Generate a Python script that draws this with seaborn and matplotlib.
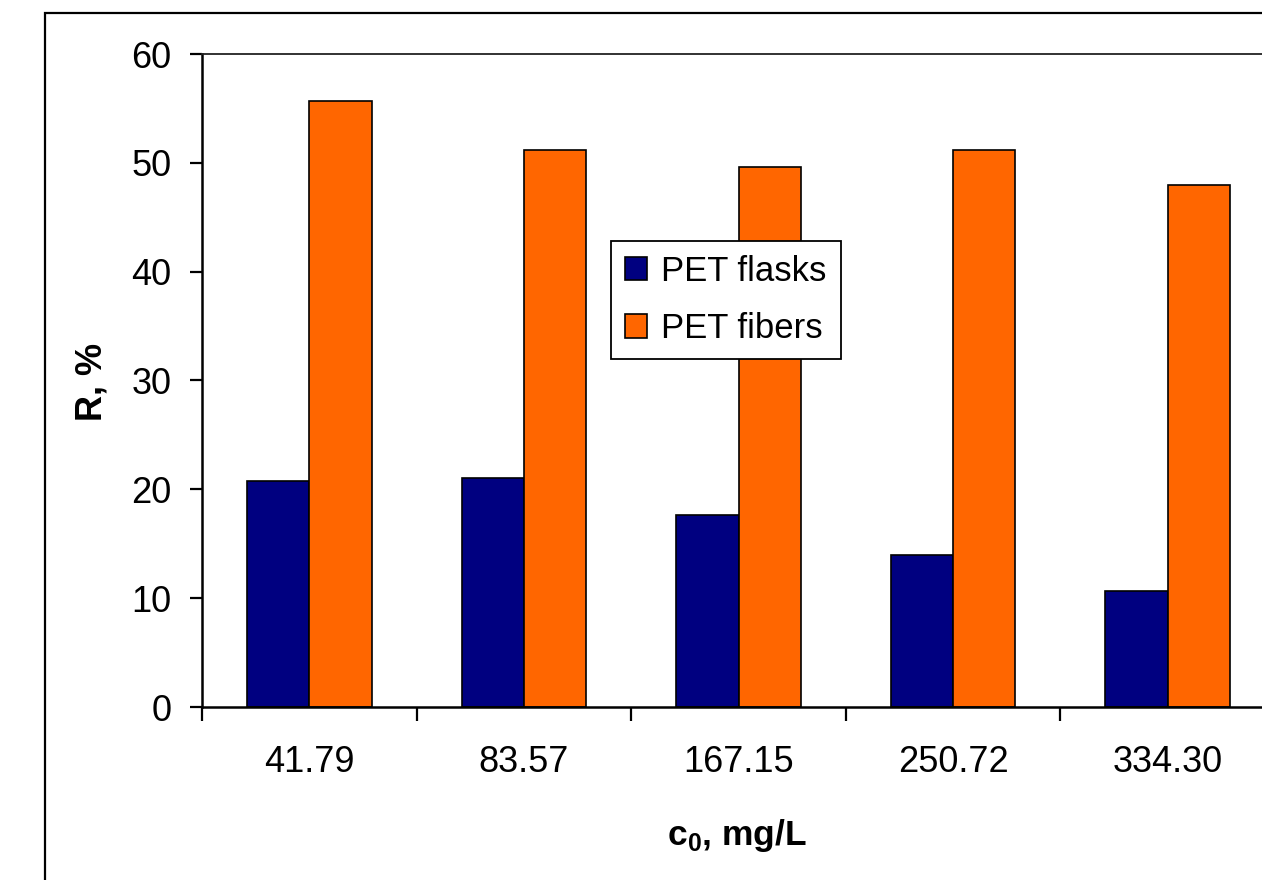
import matplotlib
matplotlib.use("Agg")
import matplotlib.pyplot as plt
from matplotlib.patches import Rectangle
import seaborn as sns
import pandas as pd

# Initial concentration categories and removal efficiencies
concentrations = ["41.79", "83.57", "167.15", "250.72", "334.30"]
pet_flasks = [20.8, 21.0, 17.6, 14.0, 10.7]
pet_fibers = [55.7, 51.2, 49.6, 51.2, 48.0]
series_names = ["PET flasks", "PET fibers"]
series_colors = ["#000080", "#FF6600"]
y_ticks = [0, 10, 20, 30, 40, 50, 60]

df = pd.DataFrame({
    "c0": concentrations * 2,
    "R": pet_flasks + pet_fibers,
    "series": [series_names[0]] * len(concentrations) + [series_names[1]] * len(concentrations),
})

sns.set_theme(style="white")
plt.rcParams["font.family"] = ["Liberation Sans", "DejaVu Sans"]
plt.rcParams["mathtext.fontset"] = "custom"
plt.rcParams["mathtext.bf"] = "Liberation Sans:bold"
plt.rcParams["mathtext.rm"] = "Liberation Sans:bold"
for key in ["text.color", "axes.labelcolor", "xtick.color", "ytick.color"]:
    plt.rcParams[key] = "black"

fig = plt.figure(figsize=(12.62, 8.8), dpi=100)
fig.patch.set_facecolor("white")

# Outer chart frame, running off the right and bottom edges
frame_left = 45 / 1262
frame_top = 1 - 13 / 880
fig.patches.append(Rectangle((frame_left, -0.2), 1.2, frame_top + 0.2,
                             transform=fig.transFigure, fill=False,
                             edgecolor="black", linewidth=1.6, zorder=0))

ax = fig.add_axes([202 / 1262, 1 - 707 / 880, (1275 - 202) / 1262, (707 - 54) / 880])

sns.barplot(data=df, x="c0", y="R", hue="series", order=concentrations,
            hue_order=series_names, palette=series_colors, width=0.58,
            edgecolor="black", linewidth=1.2, saturation=1, ax=ax)

ax.set_ylim(0, 60)
ax.set_xlim(-0.5, len(concentrations) - 0.5)
ax.set_yticks(y_ticks)
ax.set_yticklabels([str(v) for v in y_ticks], fontsize=26)

# Category labels centered, ticks at category boundaries
ax.set_xticks(range(len(concentrations)))
ax.set_xticklabels(concentrations, fontsize=26)
ax.set_xticks([i - 0.5 for i in range(len(concentrations) + 1)], minor=True)
ax.tick_params(axis="x", which="major", length=0, pad=27)
ax.tick_params(axis="x", which="minor", length=10, width=1.6, direction="out",
               bottom=True, color="black")
ax.tick_params(axis="y", which="major", length=9, width=1.6, direction="out",
               left=True, pad=13, color="black")

for side in ["left", "bottom"]:
    ax.spines[side].set_linewidth(1.8)
    ax.spines[side].set_color("black")
ax.spines["top"].set_linewidth(1.3)
ax.spines["top"].set_color("#222222")
ax.spines["right"].set_visible(False)

ax.set_xlabel(r"c$_{\mathbf{0}}$, mg/L", fontsize=25.5, fontweight="bold", va="center")
ax.xaxis.set_label_coords((737 - 202) / (1275 - 202), -(835 - 707) / (707 - 54))
ax.set_ylabel("R, %", fontsize=26, fontweight="bold", va="center")
ax.yaxis.set_label_coords(-(202 - 92) / (1275 - 202), (707 - 382) / (707 - 54))

leg = ax.legend(loc="upper left", bbox_to_anchor=(611 / 1262, 1 - 241 / 880),
                bbox_transform=fig.transFigure, fontsize=25, frameon=True,
                fancybox=False, shadow=False, handlelength=0.65, handleheight=0.65,
                handletextpad=0.4, labelspacing=0.7, borderpad=0.4,
                borderaxespad=0, title=None)
leg.get_frame().set_edgecolor("black")
leg.get_frame().set_linewidth(1.3)
leg.get_frame().set_alpha(1)
for txt in leg.get_texts():
    txt.set_color("black")

fig.savefig("out.png", dpi=100, facecolor="white")
